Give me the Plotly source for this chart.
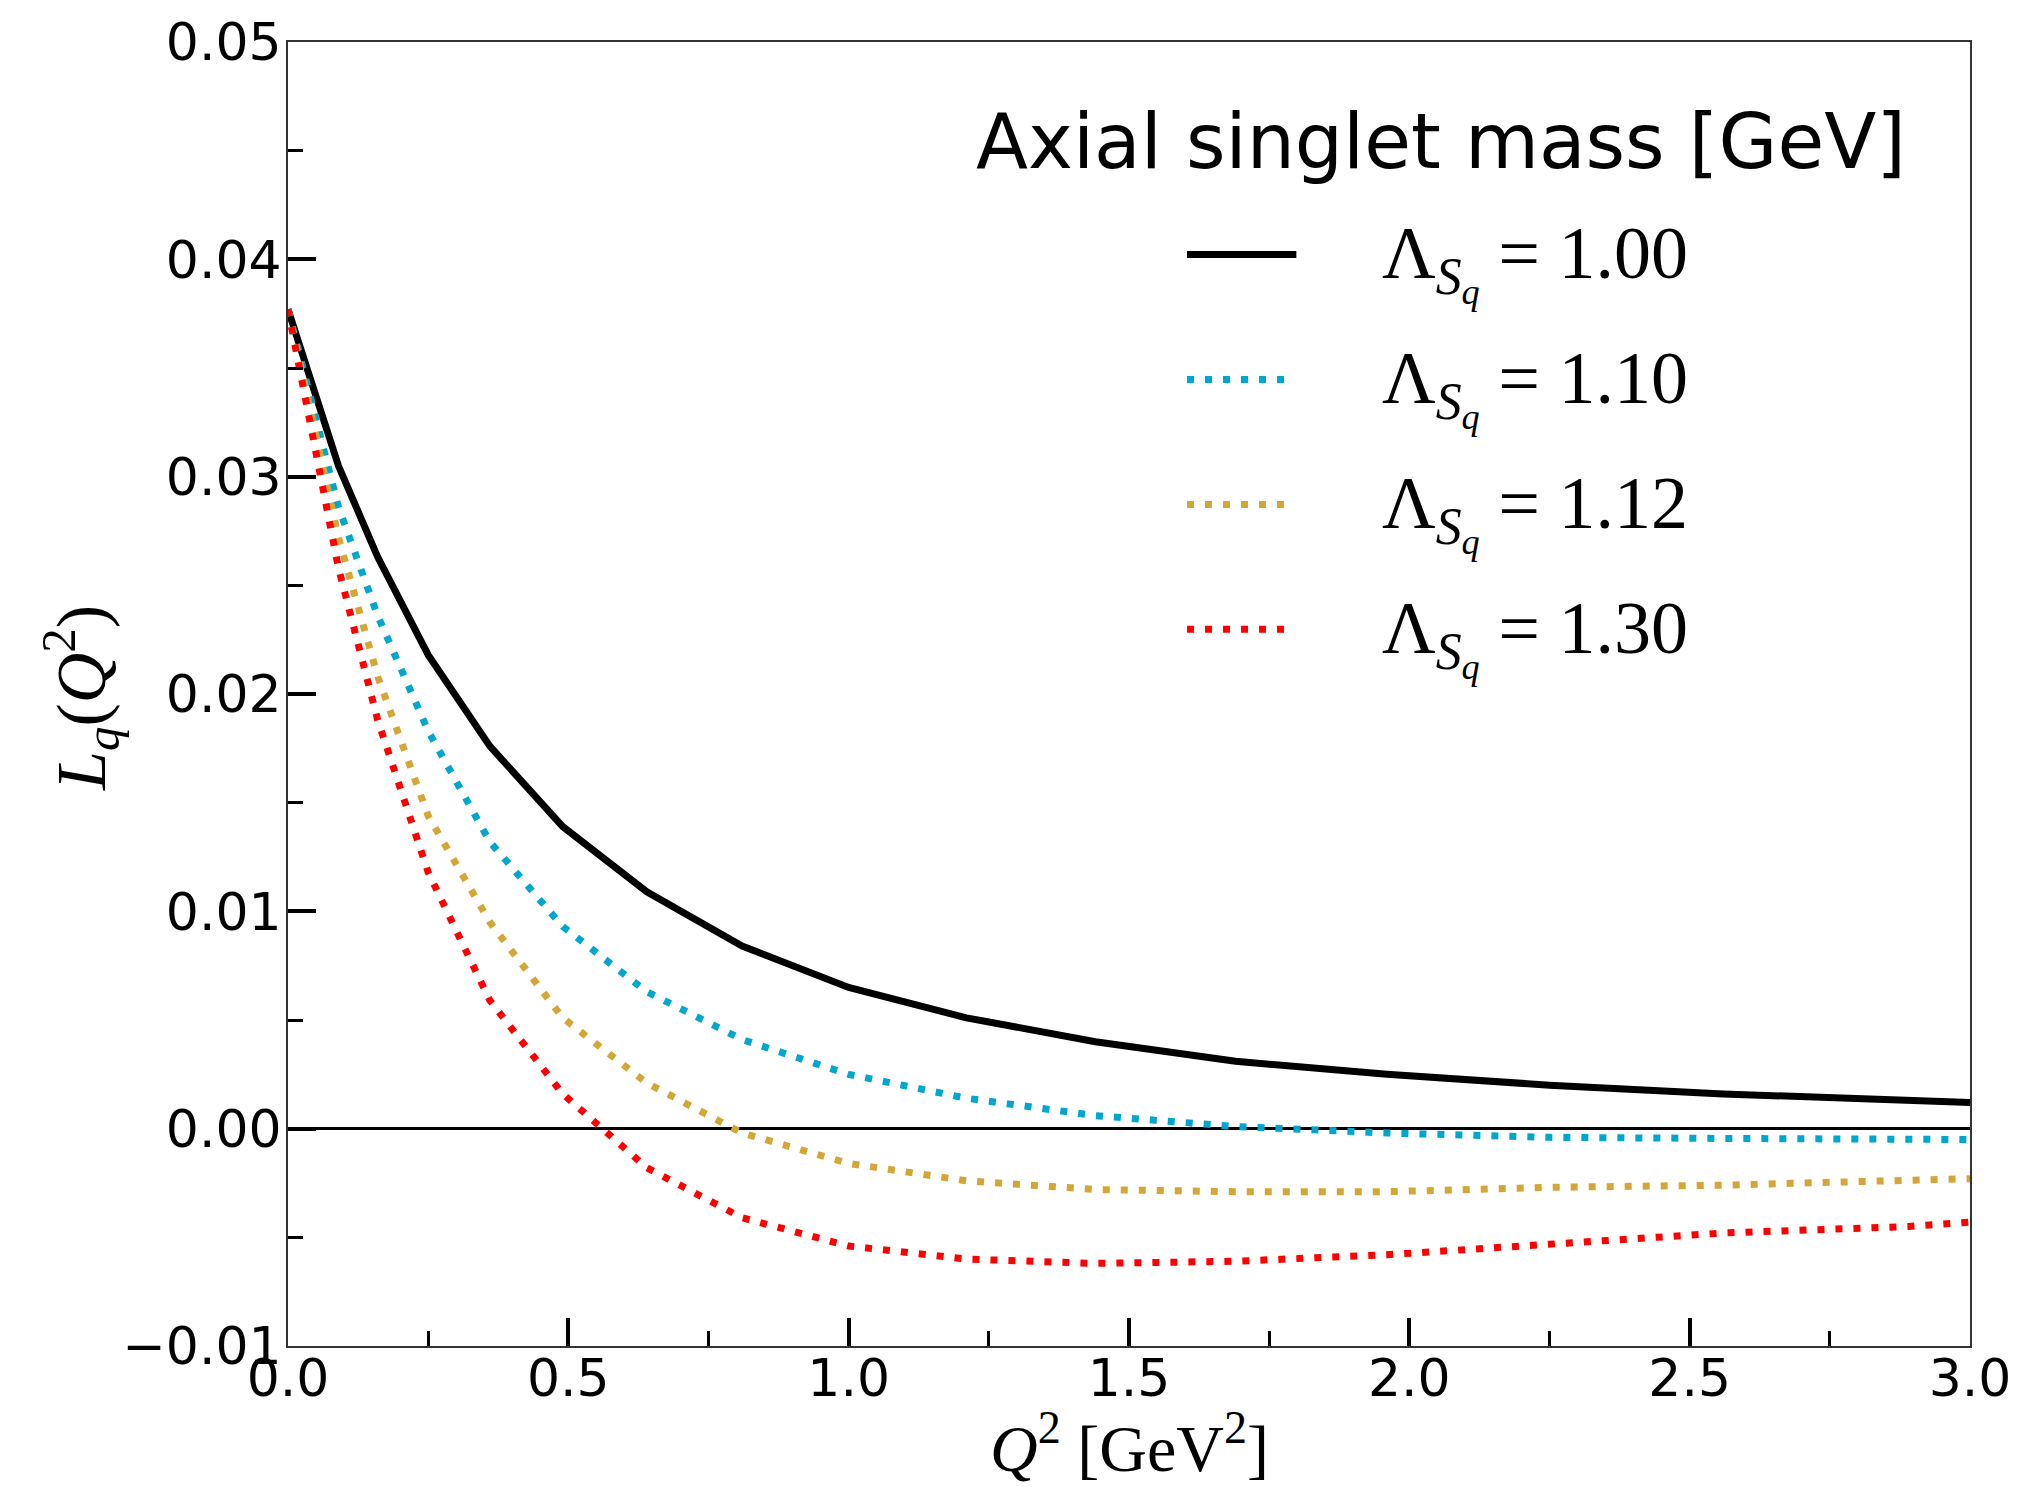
import plotly.graph_objects as go

# Q^2 grid [GeV^2]
q2 = [0.0, 0.09, 0.16, 0.25, 0.36, 0.49, 0.64, 0.81, 1.00, 1.21,
      1.44, 1.69, 1.96, 2.25, 2.56, 2.89, 3.00]

# L_q(Q^2) for each axial singlet mass Lambda_Sq [GeV]
lq_100 = [0.0377, 0.0305, 0.0263, 0.0218, 0.0176, 0.0139, 0.0109, 0.0084,
          0.0065, 0.0051, 0.0040, 0.0031, 0.0025, 0.0020, 0.0016, 0.0013, 0.0012]
lq_110 = [0.0377, 0.0286, 0.0236, 0.0183, 0.0132, 0.0093, 0.0063, 0.0041,
          0.0025, 0.0014, 0.0006, 0.0001, -0.0002, -0.0004, -0.00045, -0.00048, -0.0005]
lq_112 = [0.0377, 0.0272, 0.0208, 0.0144, 0.0095, 0.0051, 0.0021, -0.0002,
          -0.0016, -0.0024, -0.0028, -0.0029, -0.0029, -0.0027, -0.0026, -0.0024, -0.0023]
lq_130 = [0.0377, 0.0258, 0.0188, 0.0118, 0.0059, 0.0016, -0.0018, -0.0041,
          -0.0054, -0.0060, -0.0062, -0.0061, -0.0058, -0.0053, -0.0048, -0.0045, -0.0043]

mass_labels = ["1.00", "1.10", "1.12", "1.30"]
series = [lq_100, lq_110, lq_112, lq_130]
colors = ["#000000", "#00a6cf", "#d4a637", "#ff0000"]
dashes = ["solid", "7px,11px", "7px,11px", "7px,11px"]

fig = go.Figure()
for ys, col, dash, lab in zip(series, colors, dashes, mass_labels):
    fig.add_trace(go.Scatter(
        x=q2, y=ys, mode="lines", name=lab,
        line=dict(color=col, width=7, dash=dash),
        showlegend=False,
    ))

# hand-built legend block
title_font = dict(family="DejaVu Sans", size=76, color="black")
entry_font = dict(family="Liberation Serif", size=74, color="black")
fig.add_annotation(
    text="Axial singlet mass [GeV]", xref="paper", yref="paper",
    x=0.408, y=0.924, xanchor="left", yanchor="middle",
    showarrow=False, font=title_font,
)
row_y = [0.837, 0.7412, 0.6454, 0.5496]
for yy, col, dash, lab in zip(row_y, colors, dashes, mass_labels):
    fig.add_shape(
        type="line", xref="paper", yref="paper",
        x0=0.5345, x1=0.5995 if dash == "solid" else 0.594, y0=yy, y1=yy,
        line=dict(color=col, width=7, dash=dash),
    )
    fig.add_annotation(
        text="Λ<sub><i>S<sub>q</sub></i></sub> = " + lab,
        xref="paper", yref="paper", x=0.6495, y=yy - 0.006,
        xanchor="left", yanchor="middle", showarrow=False, font=entry_font,
    )

# axis titles
fig.add_annotation(
    text="<i>Q</i><sup>2</sup> [GeV<sup>2</sup>]", xref="paper", yref="paper",
    x=0.5, y=-0.075, xanchor="center", yanchor="middle", showarrow=False,
    font=dict(family="Liberation Serif", size=66, color="black"),
)
fig.add_annotation(
    text="<i>L</i><sub><i>q</i></sub>(<i>Q</i><sup>2</sup>)", xref="paper", yref="paper",
    x=-0.123, y=0.497, xanchor="center", yanchor="middle", showarrow=False,
    textangle=-90,
    font=dict(family="Liberation Serif", size=70, color="black"),
)

tick_font = dict(family="DejaVu Sans", size=52, color="black")
fig.update_xaxes(
    range=[0, 3], tickmode="linear", tick0=0, dtick=0.5, tickformat=".1f",
    ticks="inside", ticklen=28, tickwidth=4, tickcolor="black",
    minor=dict(ticks="inside", ticklen=15, tickwidth=3, dtick=0.25, tickcolor="black"),
    showline=True, linewidth=2, linecolor="#333333", mirror=True,
    showgrid=False, zeroline=False, tickfont=tick_font, ticklabelstandoff=-14,
)
fig.update_yaxes(
    range=[-0.01, 0.05], tickmode="linear", tick0=0, dtick=0.01, tickformat=".2f",
    ticks="inside", ticklen=28, tickwidth=4, tickcolor="black",
    minor=dict(ticks="inside", ticklen=15, tickwidth=3, dtick=0.005, tickcolor="black"),
    showline=True, linewidth=2, linecolor="#333333", mirror=True,
    showgrid=False, zeroline=True, zerolinecolor="black", zerolinewidth=2.5,
    tickfont=tick_font, ticklabelstandoff=-6,
)

fig.update_layout(
    width=2023, height=1487,
    margin=dict(l=288, r=49, t=40, b=141),
    plot_bgcolor="white", paper_bgcolor="white",
    showlegend=False,
)

fig.write_html("out.html")
